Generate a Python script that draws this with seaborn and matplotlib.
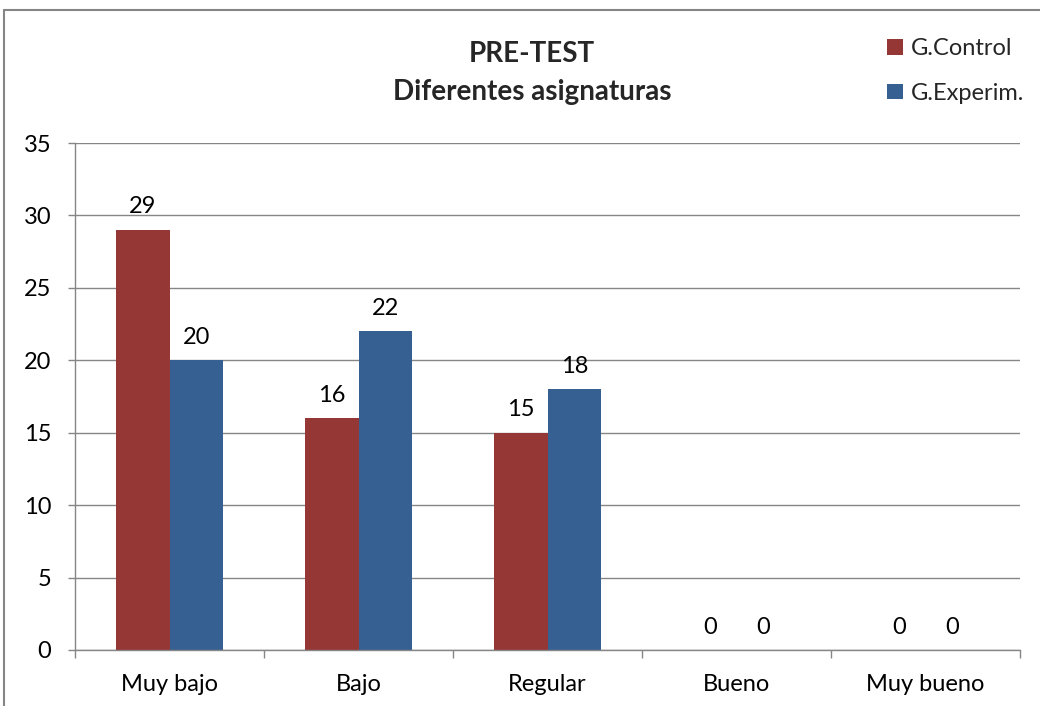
import matplotlib
matplotlib.use("Agg")
import matplotlib.pyplot as plt
import seaborn as sns
import pandas as pd
from matplotlib.lines import Line2D
from matplotlib.patches import Patch

categories = ["Muy bajo", "Bajo", "Regular", "Bueno", "Muy bueno"]
series_names = ["G.Control", "G.Experim."]
control = [29, 16, 15, 0, 0]
experim = [20, 22, 18, 0, 0]
colors = ["#953735", "#376092"]

df = pd.DataFrame({
    "cat": categories * 2,
    "grupo": [series_names[0]] * 5 + [series_names[1]] * 5,
    "val": control + experim,
})

sns.set_theme(style="white")
plt.rcParams["font.family"] = ["Lato", "DejaVu Sans"]

W, H = 1040, 706
fig = plt.figure(figsize=(W / 100, H / 100), dpi=100)
ax = fig.add_axes([75 / W, (H - 650) / H, (1020 - 75) / W, (650 - 143) / H])

sns.barplot(data=df, x="cat", y="val", hue="grupo", order=categories,
            hue_order=series_names, palette=colors, width=0.567,
            saturation=1, ax=ax, legend=False, edgecolor="none")

for cont in ax.containers:
    ax.bar_label(cont, labels=[f"{v:g}" for v in cont.datavalues],
                 padding=9, fontsize=17, color="black")

ax.set_ylim(0, 35)
ax.set_xlim(-0.5, 4.5)
ax.set_yticks(range(0, 36, 5))
ax.yaxis.grid(True, color="#868686", linewidth=1)
ax.set_axisbelow(True)
ax.set_xlabel("")
ax.set_ylabel("")
ax.tick_params(axis="y", labelsize=17, length=5, color="#868686", left=True,
               width=1, pad=12, labelcolor="black")
ax.set_xticks(range(5))
ax.set_xticklabels(categories)
ax.tick_params(axis="x", which="major", length=0, labelsize=17, pad=17,
               labelcolor="black")
ax.set_xticks([i - 0.5 for i in range(6)], minor=True)
ax.tick_params(axis="x", which="minor", length=6, color="#868686", width=1,
               bottom=True)
for s in ["top", "right"]:
    ax.spines[s].set_visible(False)
for s in ["left", "bottom"]:
    ax.spines[s].set_color("#868686")
    ax.spines[s].set_linewidth(1)

fig.text(532 / W, 1 - 54 / H, "PRE-TEST", ha="center", va="center",
         fontsize=20, fontweight="bold")
fig.text(532 / W, 1 - 92 / H, "Diferentes asignaturas", ha="center",
         va="center", fontsize=20, fontweight="bold")

handles = [Patch(facecolor=c, edgecolor="none") for c in colors]
fig.legend(handles, series_names, loc="upper left",
           bbox_to_anchor=(866 / W, 1 - 17 / H), frameon=False, fontsize=17,
           handlelength=0.65, handleheight=0.65, handletextpad=0.35,
           labelspacing=1.0)

fig.add_artist(Line2D([4 / W, 1], [1 - 10 / H, 1 - 10 / H],
                      color="#868686", linewidth=1.5, transform=fig.transFigure))
fig.add_artist(Line2D([4 / W, 4 / W], [0, 1 - 10 / H],
                      color="#868686", linewidth=1.5, transform=fig.transFigure))

fig.savefig("out.png", dpi=100)
